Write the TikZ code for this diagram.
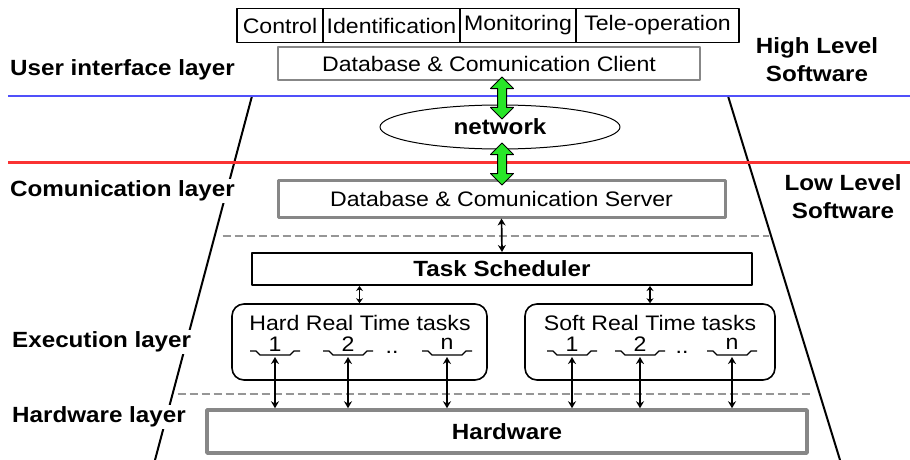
\documentclass[tikz,border=0pt]{standalone}
\usepackage{fontspec}
\setmainfont[FakeStretch=1.1]{Liberation Sans}
\usetikzlibrary{shapes.geometric,shapes.arrows,arrows.meta,calc}
\definecolor{bluel}{RGB}{80,80,250}
\definecolor{redl}{RGB}{250,50,50}
\definecolor{grayb}{RGB}{135,135,135}
\definecolor{dashg}{RGB}{150,150,150}
\definecolor{greenf}{RGB}{40,230,40}
\tikzset{
  reg/.style={font=\fontsize{21}{24}\selectfont},
  bld/.style={font=\fontsize{22}{28}\selectfont\bfseries},
  topbox/.style={draw=black, line width=1.3pt, minimum height=34pt, inner sep=0pt, reg},
  clientbox/.style={draw=grayb, line width=1.2pt, minimum width=422pt, minimum height=33pt, inner sep=0pt, reg},
  serverbox/.style={draw=grayb, line width=3pt, minimum width=447pt, minimum height=37pt, inner sep=0pt, reg},
  schedbox/.style={draw=black, line width=2pt, minimum width=500pt, minimum height=32pt, inner sep=0pt, bld},
  hwbox/.style={draw=grayb, line width=3.5pt, minimum width=600pt, minimum height=43pt, inner sep=0pt, bld},
  groupbox/.style={draw=black, line width=1.6pt, rounded corners=12pt, minimum height=76pt, inner sep=0pt},
  cloud/.style={ellipse, draw=black, line width=1pt, minimum width=240pt, minimum height=44pt, inner sep=0pt, bld},
  lbl/.style={bld, fill=white, inner sep=2pt},
  trap/.style={line width=2pt, black},
  dashln/.style={draw=dashg, line width=2pt, dash pattern=on 8pt off 4pt},
  biarrow/.style={line width=1.7pt, {Stealth[length=7pt,width=8pt]}-{Stealth[length=7pt,width=8pt]}},
  smallarrow/.style={line width=1.7pt, {Stealth[length=5pt,width=7pt]}-{Stealth[length=5pt,width=7pt]}},
  garrow/.style={double arrow, rotate=90, draw=black, line width=1pt, fill=greenf, minimum height=42pt, inner sep=4pt, double arrow head extend=7pt},
  tasknum/.style={reg, inner sep=0pt},
  under/.style={line width=1.3pt, black}
}
\begin{document}
\begin{tikzpicture}[x=1pt, y=-1pt, line join=round]
\useasboundingbox (0,0) rectangle (910,460);

% trapezoid
\coordinate (LT) at (252,96);
\coordinate (LB) at (155,460);
\coordinate (RT) at (728,96);
\coordinate (RB) at (840,460);
\draw[trap] (LT) -- (LB);
\draw[trap] (RT) -- (RB);

% layer separators
\coordinate (B0) at (8,96);
\coordinate (B1) at (910,96);
\coordinate (R0) at (8,162);
\coordinate (R1) at (910,162);
\draw[bluel, line width=2pt] (B0) -- (B1);
\draw[redl, line width=3pt] (R0) -- (R1);

\coordinate (D1a) at ($(LT)!0.3846!(LB)+(8,0)$);
\coordinate (D1b) at ($(RT)!0.3846!(RB)+(-2,0)$);
\coordinate (D2a) at ($(LT)!0.8187!(LB)+(5,0)$);
\coordinate (D2b) at ($(RT)!0.8187!(RB)+(-8,0)$);
\draw[dashln] (D1a) -- (D1b);
\draw[dashln] (D2a) -- (D2b);

% top applications
\node[topbox, minimum width=86pt] (ctrl) at (280,25.5) {Control};
\node[topbox, minimum width=137pt] (ident) at (391.5,25.5) {Identification};
\node[topbox, minimum width=116pt] (mon) at (518,25.5) {Monitoring};
\node[topbox, minimum width=163pt] (tele) at (657.5,25.5) {Tele-operation};
\node[clientbox] (client) at (489,63.5) {Database \& Comunication Client};

\node[cloud] (net) at (500,127) {network};

\node[serverbox] (server) at (501.5,198.5) {Database \& Comunication Server};
\node[schedbox] (sched) at (502,269) {Task Scheduler};

\node[groupbox, minimum width=255pt] (hard) at (359.5,342) {};
\node[reg, inner sep=0pt] (hardlbl) at (360,323) {Hard Real Time tasks};
\node[groupbox, minimum width=250pt] (soft) at (650,342) {};
\node[reg, inner sep=0pt] (softlbl) at (650,323) {Soft Real Time tasks};

\node[hwbox] (hw) at (507,431.5) {Hardware};

% green arrows
\node[garrow] (g1) at (502,98) {};
\node[garrow] (g2) at (502,164) {};

% black arrows
\draw[biarrow] (server.south) -- (sched.north);
\draw[smallarrow] (sched.south -| hard.north) -- (hard.north);
\draw[smallarrow] (sched.south -| soft.north) -- (soft.north);

% tasks
\foreach \n/\x/\t in {h1/275/1, h2/348/2, h3/447/n, s1/572/1, s2/640/2, s3/732/n}{
  \node[tasknum] (\n) at (\x,344) {\t};
  \coordinate (\n u) at (\x,357);
  \draw[under] (\x-25,351) -- (\x-19,351) -- (\x-15,355) -- (\x+15,355) -- (\x+19,351) -- (\x+25,351);
  \draw[biarrow] (\n u) -- (\n u |- hw.north);
}
\node[reg, inner sep=0pt] (hdots) at (392,352) {..};
\node[reg, inner sep=0pt] (sdots) at (682,352) {..};

% layer labels
\node[lbl, anchor=west] (ui) at (8,70) {User interface layer};
\node[lbl, anchor=west] (com) at (8,191) {Comunication layer};
\node[lbl, anchor=west] (exe) at (10,342) {Execution layer};
\node[lbl, anchor=west] (hwl) at (10,417) {Hardware layer};

\node[bld, align=center, inner sep=0pt] (hls) at (817,60) {High Level\\Software};
\node[bld, align=center, inner sep=0pt] (lls) at (843,197) {Low Level\\Software};
\end{tikzpicture}
\end{document}
